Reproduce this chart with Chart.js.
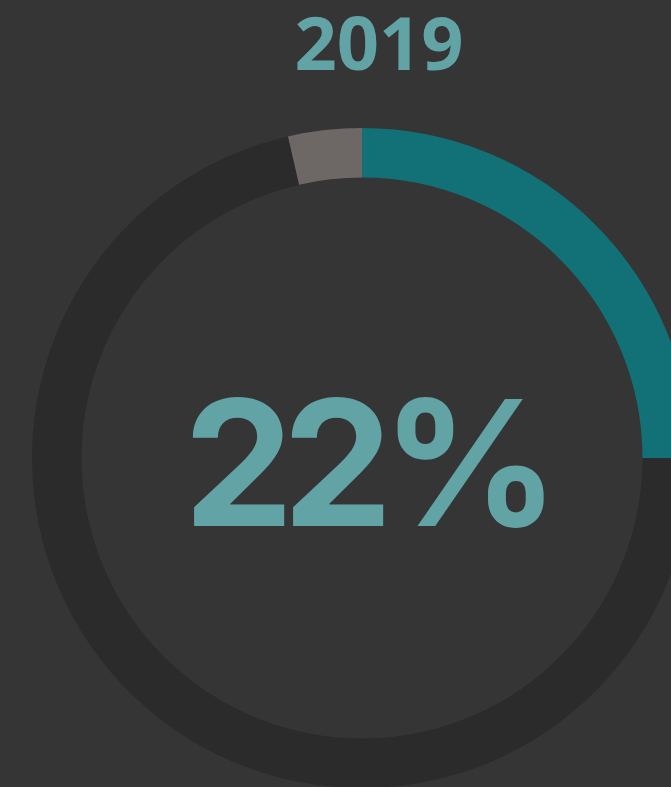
<!DOCTYPE html>
<html><head><meta charset="utf-8">
<script src="https://cdn.jsdelivr.net/npm/chart.js@4/dist/chart.umd.min.js"></script>
<style>
html,body{margin:0;padding:0;background:#353535;width:671px;height:787px;overflow:hidden;position:relative;}
#title{position:absolute;left:17px;width:724px;top:-3px;text-align:center;font-family:"Open Sans";font-weight:700;font-size:74px;line-height:90px;color:#62a3a5;}
#wrap{position:absolute;left:0;top:128px;width:724px;height:660px;}
#center{position:absolute;left:-2px;width:736px;top:362px;text-align:center;font-family:Inter;font-weight:700;font-size:175px;line-height:200px;letter-spacing:-11px;color:#62a3a5;}
</style></head>
<body>
<div id="wrap"><canvas id="c" width="724" height="660"></canvas></div>
<div id="title"></div>
<div id="center"></div>
<script>
const year = "2019";
const centerLabel = "22%";
const segments = ["Share", "Remaining", "Other"];
const values = [25, 71.4, 3.6];
const colors = ["#127176", "#2b2b2b", "#6d6866"];

document.getElementById("title").textContent = year;
document.getElementById("center").textContent = centerLabel;

new Chart(document.getElementById("c"), {
  type: "doughnut",
  data: { labels: segments, datasets: [{ data: values, backgroundColor: colors, borderWidth: 0 }] },
  options: {
    responsive: false,
    animation: false,
    cutout: "85%",
    layout: { padding: 0 },
    plugins: { legend: { display: false }, tooltip: { enabled: false }, title: { display: false } }
  }
});
</script>
</body></html>
